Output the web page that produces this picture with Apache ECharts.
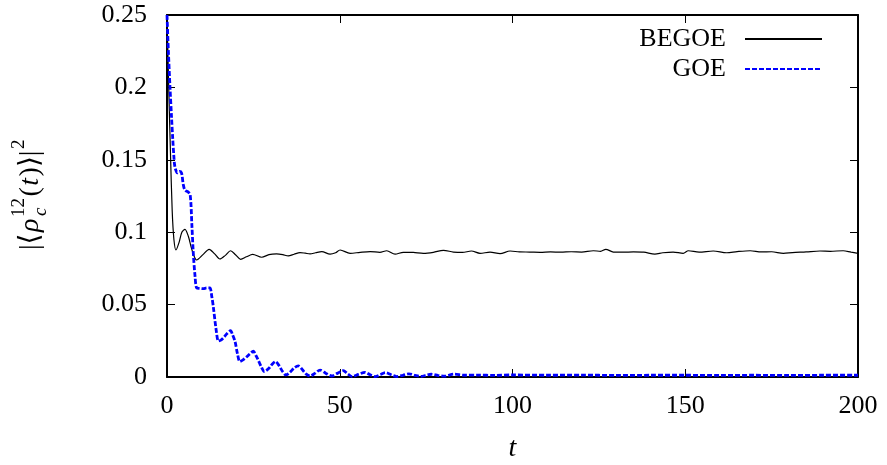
<!DOCTYPE html>
<html>
<head>
<meta charset="utf-8">
<script src="https://cdn.jsdelivr.net/npm/echarts@6/dist/echarts.min.js"></script>
<style>
  html, body { margin: 0; padding: 0; background: #fff; }
  #chart { width: 887px; height: 465px; }
</style>
</head>
<body>
<div id="chart"></div>
<script>
// time axis ticks
const xTicks = [0, 50, 100, 150, 200];
const yTicks = [0, 0.05, 0.1, 0.15, 0.2, 0.25];
const seriesNames = ["BEGOE", "GOE"];

// BEGOE curve [t, value]
const begoe = [
  [0, 0.25], [0.5, 0.2], [1.0, 0.155], [1.5, 0.115], [2.0, 0.095], [2.6, 0.0877],
  [3.5, 0.093], [4.3, 0.1], [5.2, 0.102], [6.2, 0.097], [7.2, 0.088], [8.6, 0.0808],
  [10.4, 0.0845], [12.2, 0.0882], [13.8, 0.085], [15.3, 0.0815], [16.9, 0.084],
  [18.4, 0.0872], [19.9, 0.0843], [21.3, 0.0813], [23.0, 0.083], [24.8, 0.0847],
  [27.4, 0.0827], [29.5, 0.0845], [31.7, 0.085], [33.5, 0.0845], [35.1, 0.0836],
  [36.8, 0.0848], [38.5, 0.0859], [40.0, 0.0855], [41.4, 0.085], [43.0, 0.0858],
  [44.8, 0.0866], [47.2, 0.0848], [48.8, 0.0858], [50.1, 0.0877], [53.0, 0.0854],
  [55.9, 0.0861], [58.8, 0.0866], [61.6, 0.0861], [63.6, 0.0872], [66.0, 0.0848],
  [68.4, 0.0861], [71.3, 0.086], [74.2, 0.0854], [77.1, 0.0861], [80.0, 0.0875],
  [82.9, 0.0863], [85.5, 0.086], [88.1, 0.087], [90.6, 0.0854], [93.5, 0.0862],
  [96.4, 0.0852], [99.3, 0.087], [102, 0.0864], [105, 0.0863], [108, 0.0861],
  [111, 0.0864], [114, 0.0862], [117, 0.0865], [120, 0.0863], [123.4, 0.0872],
  [125.5, 0.0868], [127, 0.0882], [129.2, 0.0863], [132, 0.0862], [135, 0.0864],
  [138, 0.0862], [141.2, 0.0849], [143.5, 0.0858], [146.5, 0.0863], [149.4, 0.0854],
  [150.9, 0.0872], [154, 0.0863], [158.1, 0.087], [162, 0.0858], [165, 0.0866],
  [168.8, 0.0872], [172, 0.0864], [175, 0.0865], [178.4, 0.0854], [181, 0.0859],
  [185, 0.0864], [189, 0.087], [192, 0.0868], [195.7, 0.0872], [198, 0.0862], [200, 0.0854]
];

// GOE curve [t, value]
const goe = [
  [0, 0.25], [0.4, 0.225], [0.87, 0.2], [1.3, 0.18], [1.65, 0.165], [2.0, 0.152],
  [2.3, 0.145], [3.0, 0.141], [3.6, 0.142], [4.2, 0.141], [4.7, 0.133], [5.2, 0.129],
  [6.0, 0.128], [6.7, 0.126], [7.2, 0.105], [7.6, 0.086], [8.1, 0.07], [8.6, 0.0615],
  [9.5, 0.0612], [10.5, 0.061], [11.5, 0.0615], [12.4, 0.0615], [13.0, 0.055],
  [13.4, 0.0486], [14.2, 0.033], [14.9, 0.0248], [15.6, 0.0255], [16.3, 0.027],
  [17.4, 0.03], [18.4, 0.032], [19.0, 0.029], [19.7, 0.0244], [20.4, 0.016],
  [21.1, 0.0106], [22.1, 0.012], [23.1, 0.014], [24.0, 0.016], [25.0, 0.0178],
  [25.7, 0.015], [26.4, 0.0117], [27.3, 0.007], [28.2, 0.0038], [29.5, 0.006],
  [30.5, 0.009], [31.4, 0.0106], [32.4, 0.008], [33.4, 0.004], [34.4, 0.0014],
  [35.5, 0.003], [36.8, 0.0062], [38.0, 0.0077], [39.2, 0.005], [40.3, 0.002],
  [41.4, 0.0007], [42.8, 0.0025], [44.3, 0.0048], [46.0, 0.0025], [47.7, 0.0007],
  [49.3, 0.0025], [51.0, 0.0044], [52.3, 0.0022], [53.6, 0.0003], [55.4, 0.0018],
  [57.3, 0.0032], [58.8, 0.0015], [60.2, 0.0003], [61.8, 0.0017], [63.2, 0.003],
  [65.0, 0.0014], [66.5, 0.0003], [68.3, 0.0012], [70.0, 0.0022], [71.8, 0.0011],
  [73.5, 0.0004], [75.0, 0.0012], [76.5, 0.0019], [78.5, 0.001], [80.5, 0.0006],
  [83.0, 0.002], [86, 0.0012], [90, 0.0013], [95, 0.0011], [100, 0.0014],
  [110, 0.0012], [120, 0.0013], [130, 0.0011], [140, 0.0012], [150, 0.0012],
  [160, 0.0011], [170, 0.0012], [180, 0.0011], [190, 0.0012], [200, 0.0012]
];

const serif = '"Liberation Serif", "DejaVu Serif", serif';
const fs = 26;
const tfs = 28; // y title size
const tsub = 19;

// y axis title pieces, laid out along the (rotated) baseline
const mctx = document.createElement("canvas").getContext("2d");
function tw(s, size, italic) {
  mctx.font = (italic ? "italic " : "") + size + "px " + serif;
  return mctx.measureText(s).width;
}
const titleParts = [
  { s: "|\u27E8", size: tfs, it: false, dy: 0 },
  { s: "\u03C1", size: tfs, it: true, dy: 0 },
  { s: "12", size: tsub, it: false, dy: -12, stack: "c" },
  { s: "(", size: tfs, it: false, dy: 0 },
  { s: "t", size: tfs, it: true, dy: 0 },
  { s: ")\u27E9|", size: tfs, it: false, dy: 0 },
  { s: "2", size: tsub, it: false, dy: -12 }
];
let pos = 0;
const titleKids = [];
titleParts.forEach((p) => {
  titleKids.push({
    type: "text",
    style: { text: p.s, x: pos, y: p.dy, font: (p.it ? "italic " : "") + p.size + "px " + serif,
      fill: "#000", align: "left", verticalAlign: "middle" }
  });
  if (p.stack) {
    titleKids.push({
      type: "text",
      style: { text: p.stack, x: pos + 1, y: 10, font: "italic " + tsub + "px " + serif,
        fill: "#000", align: "left", verticalAlign: "middle" }
    });
  }
  pos += tw(p.s, p.size, p.it) + 1.5;
});

var chart = echarts.init(document.getElementById("chart"));

const axisLine = { show: true, onZero: false, lineStyle: { color: "#000", width: 2 } };
const axisTick = { show: true, inside: true, length: 8, lineStyle: { color: "#000", width: 1 } };

var option = {
  animation: false,
  backgroundColor: "#fff",
  grid: { left: 167, right: 29, top: 15, bottom: 88, containLabel: false, outerBoundsMode: "none" },
  legend: {
    data: seriesNames,
    orient: "vertical",
    right: 59,
    top: 21,
    align: "right",
    itemWidth: 77,
    itemHeight: 14,
    itemGap: 4,
    itemStyle: { opacity: 0 },
    textStyle: { fontFamily: serif, fontSize: fs, color: "#000", width: 100, align: "right", padding: [0, 14, 0, 0] }
  },
  xAxis: [
    {
      type: "value", min: 0, max: 200, interval: 50, position: "bottom",
      axisLine: axisLine, axisTick: axisTick, splitLine: { show: false },
      axisLabel: { color: "#000", fontFamily: serif, fontSize: fs, margin: 16 },
      name: "t", nameLocation: "middle", nameGap: 58,
      nameTextStyle: { fontFamily: serif, fontStyle: "italic", fontSize: 28, color: "#000" }
    },
    {
      type: "value", min: 0, max: 200, interval: 50, position: "top",
      axisLine: axisLine, axisTick: axisTick, splitLine: { show: false },
      axisLabel: { show: false }
    }
  ],
  yAxis: [
    {
      type: "value", min: 0, max: 0.25, interval: 0.05, position: "left",
      axisLine: axisLine, axisTick: axisTick, splitLine: { show: false },
      axisLabel: { color: "#000", fontFamily: serif, fontSize: fs, margin: 20 }
    },
    {
      type: "value", min: 0, max: 0.25, interval: 0.05, position: "right",
      axisLine: axisLine, axisTick: axisTick, splitLine: { show: false },
      axisLabel: { show: false }
    }
  ],
  graphic: [
    { type: "group", x: 31, y: 250, rotation: Math.PI / 2, children: titleKids }
  ],
  series: [
    {
      name: seriesNames[0], type: "line", data: begoe, xAxisIndex: 0, yAxisIndex: 0,
      showSymbol: false, symbol: "none", smooth: 0.3,
      lineStyle: { color: "#000", width: 1.2 }, itemStyle: { color: "#000" }
    },
    {
      name: seriesNames[1], type: "line", data: goe, xAxisIndex: 0, yAxisIndex: 0,
      showSymbol: false, symbol: "none", smooth: 0.3,
      lineStyle: { color: "#0000ff", width: 2.8, type: [5, 2] }, itemStyle: { color: "#0000ff" }
    }
  ]
};
chart.setOption(option);
</script>
</body>
</html>
